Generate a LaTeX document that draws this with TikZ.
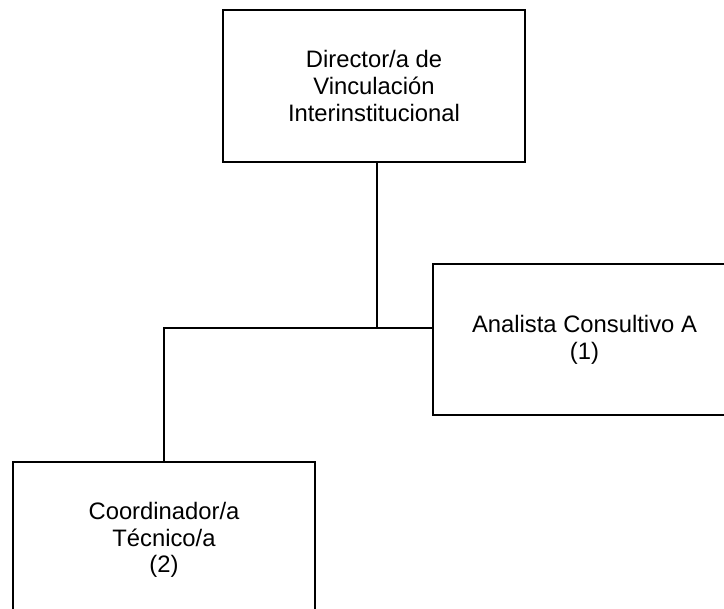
\documentclass[tikz,border=0pt]{standalone}
\usepackage{fontspec}
\setmainfont{Liberation Sans}
\begin{document}
\begin{tikzpicture}[x=0.5pt,y=-0.5pt,
  orgbox/.style={draw=black, line width=1.1pt, align=center, inner sep=0pt,
    font=\fontsize{11.9}{13.4}\selectfont},
  link/.style={draw=black, line width=1.1pt}]
\useasboundingbox (0,0) rectangle (724,609);
\node[orgbox, minimum width=151pt, minimum height=76pt] (top) at (374,86)
  {Director/a de\\Vinculación\\Interinstitucional};
\node[orgbox, minimum width=151.5pt, minimum height=75.5pt] (right) at (584.5,339.5)
  {Analista Consultivo A\\(1)};
\node[orgbox, minimum width=151pt, minimum height=78pt] (bot) at (164,540)
  {Coordinador/a\\Técnico/a\\(2)};
\coordinate (j) at (377,328);
\draw[link] (j |- top.south) -- (j) -- (right.west |- j);
\draw[link] (j) -- (bot.north |- j) -- (bot.north);
\end{tikzpicture}
\end{document}
